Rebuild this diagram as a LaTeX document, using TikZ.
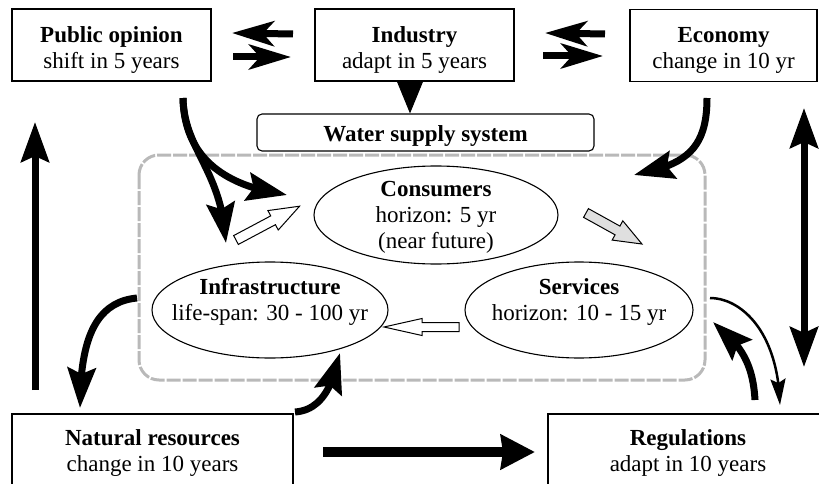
\documentclass[tikz,border=0pt]{standalone}
\usepackage{fontspec}
\setmainfont{Liberation Serif}
\usetikzlibrary{arrows.meta,bending,shapes.geometric}
\newcommand\figfont{\fontsize{23pt}{26pt}\selectfont}
% hollow block arrow: #1 tail, #2 angle, #3 length, #4 shaft half width, #5 head half width, #6 head length, #7 fill
\newcommand\blockarrow[7]{%
  \draw[hollow, fill=#7, shift={#1}, rotate=#2]
    (0,-#4) -- ({#3-#6},-#4) -- ({#3-#6},-#5) -- (#3,0) --
    ({#3-#6},#5) -- ({#3-#6},#4) -- (0,#4) -- cycle;}
\begin{document}
\begin{tikzpicture}[x=1pt,y=-1pt,
  box/.style={draw, line width=1.1pt, minimum height=72pt, inner sep=0pt},
  txt/.style={align=center, font=\figfont, inner sep=0pt},
  oval/.style={draw, ellipse, line width=1.1pt, inner sep=0pt},
  frame/.style={draw=gray!55, line width=3pt, rounded corners=20pt, dash pattern=on 14pt off 2pt},
  hollow/.style={draw, line width=1pt, line join=miter},
  swap/.style={line width=7pt, -{Stealth[length=42pt,width=25pt,inset=11pt]}},
  heavy/.style={line width=7pt, -{Stealth[length=40pt,width=28pt,inset=6pt]}},
  heavyboth/.style={line width=7pt, {Stealth[length=40pt,width=28pt,inset=6pt]}-{Stealth[length=40pt,width=28pt,inset=6pt]}},
  fat/.style={line width=10pt, -{Stealth[length=34pt,width=34pt,inset=2pt]}},
  slim/.style={line width=2.5pt, -{Stealth[length=26pt,width=15pt,inset=4pt]}},
  drop/.style={line width=1pt, -{Triangle[length=32pt,width=26pt]}}
]
\useasboundingbox (0,0) rectangle (819,484);

% outer factor boxes
\node[box, minimum width=199pt] (po)  at (111.5,45) {};
\node[box, minimum width=199pt] (ind) at (414.5,45) {};
\node[box, minimum width=187pt] (eco) at (723.5,45.5) {};
\node[box, minimum width=281pt] (nat) at (152.5,450) {};
\node[box, minimum width=280pt] (reg) at (688,450) {};

\node[txt] (poT)  at (111.5,50) {\textbf{Public opinion}\\shift in 5 years};
\node[txt] (indT) at (414.5,50) {\textbf{Industry}\\adapt in 5 years};
\node[txt] (ecoT) at (723.5,50) {\textbf{Economy}\\change in 10 yr};
\node[txt] (natT) at (152.5,453) {\textbf{Natural resources}\\change in 10 years};
\node[txt] (regT) at (688,453) {\textbf{Regulations}\\adapt in 10 years};

% water supply system frame
\draw[frame] (139,155) rectangle (705,380);
\node[draw, line width=1.1pt, rounded corners=5pt, fill=white, minimum width=337pt,
      minimum height=37pt, inner sep=0pt] (ws) at (425.5,132.5) {};
\node[txt] (wsT) at (425.5,136) {\textbf{Water supply system}};

% system components
\node[oval, minimum width=244pt, minimum height=98pt] (con) at (436,215) {};
\node[txt] (conT) at (436,217) {\textbf{Consumers}\\horizon: 5 yr\\(near future)};
\node[oval, minimum width=236pt, minimum height=96pt] (inf) at (270,310) {};
\node[txt] (infT) at (270,302) {\textbf{Infrastructure}\\life-span: 30 - 100 yr};
\node[oval, minimum width=228pt, minimum height=96pt] (svc) at (579,310) {};
\node[txt] (svcT) at (579,302) {\textbf{Services}\\horizon: 10 - 15 yr};

% connector end points
\coordinate (poA) at (293,34);  \coordinate (poB) at (232,33);
\coordinate (poC) at (233,57);  \coordinate (poD) at (291,57);
\coordinate (ieA) at (605,34);  \coordinate (ieB) at (545,33);
\coordinate (ieC) at (543,56);  \coordinate (ieD) at (603,56);
\coordinate (poOut) at (183,98);
\coordinate (conIn) at (287,195);
\coordinate (infIn) at (226,243);
\coordinate (ecoOut) at (707,98);
\coordinate (sysIn) at (634,175);
\coordinate (leftLo) at (35,390); \coordinate (leftHi) at (35,122);
\coordinate (rightHi) at (804,108); \coordinate (rightLo) at (804,367);
\coordinate (infOut) at (137,298); \coordinate (natIn) at (80,408);
\coordinate (natOut) at (295,412); \coordinate (infBack) at (340,353);
\coordinate (natR) at (323,452); \coordinate (regL) at (535,452);
\coordinate (svcOut) at (710,298); \coordinate (regIn) at (780,405);
\coordinate (regOut) at (755,400); \coordinate (svcIn) at (713,322);

% exchanges between the upper factors
\draw[swap] (poA) -- (poB);
\draw[swap] (poC) -- (poD);
\draw[swap] (ieA) -- (ieB);
\draw[swap] (ieC) -- (ieD);
\draw[drop] (ind.south -| 410,0) -- (ws.north -| 410,0);

% influences on the system
\draw[heavy] (poOut) .. controls (184,150) and (215,185) .. (conIn);
\draw[heavy] (poOut) .. controls (184,150) and (222,170) .. (infIn);
\draw[heavy] (ecoOut) .. controls (707,150) and (685,165) .. (sysIn);
\draw[heavy] (leftLo) -- (leftHi);
\draw[heavyboth] (rightHi) -- (rightLo);
\draw[heavy] (infOut) .. controls (95,302) and (80,340) .. (natIn);
\draw[heavy] (natOut) .. controls (322,410) and (333,385) .. (infBack);
\draw[fat] (natR) -- (regL);
\draw[slim] (svcOut) .. controls (740,298) and (778,330) .. (regIn);
\draw[heavy] (regOut) .. controls (753,365) and (742,345) .. (svcIn);

% internal cycle
\blockarrow{(236,240)}{28}{72}{5}{11}{30}{white}
\blockarrow{(586,213)}{-29}{64}{5}{11}{28}{gray!25}
\blockarrow{(459,327)}{180}{75}{4.5}{8.5}{38}{white}
\end{tikzpicture}
\end{document}
